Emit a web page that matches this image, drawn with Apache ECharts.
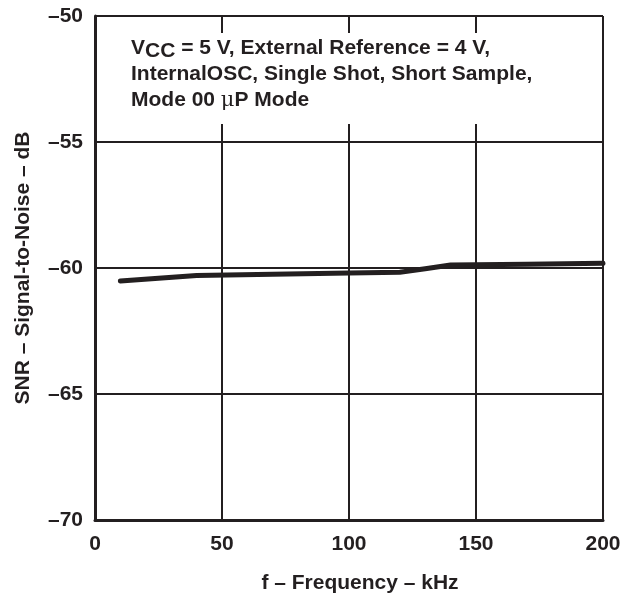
<!DOCTYPE html>
<html>
<head>
<meta charset="utf-8">
<script src="https://cdn.jsdelivr.net/npm/echarts@6/dist/echarts.min.js"></script>
<style>
  html, body { margin: 0; padding: 0; background: #fff; }
  #chart { width: 621px; height: 594px; }
</style>
</head>
<body>
<div id="chart"></div>
<script>
// SNR vs frequency
const freqKHz = [10, 40, 70, 100, 120, 130, 140, 170, 200]
const snrDb = [-60.52, -60.3, -60.25, -60.2, -60.17, -60.03, -59.88, -59.85, -59.81]

const xTicks = [0, 50, 100, 150, 200]
const yTicks = [-70, -65, -60, -55, -50]

const chart = echarts.init(document.getElementById('chart'))
const font = 'Liberation Sans, Arial, sans-serif'
const ink = '#231f20'
const fs = 21

const option = {
  animation: false,
  backgroundColor: '#fff',
  grid: { left: 95, right: 18, top: 16, bottom: 74, containLabel: false, outerBoundsMode: 'none' },
  xAxis: {
    type: 'value',
    min: xTicks[0],
    max: xTicks[xTicks.length - 1],
    interval: 50,
    name: 'f – Frequency – kHz',
    nameLocation: 'middle',
    nameGap: 53,
    nameTextStyle: { color: ink, fontFamily: font, fontWeight: 'bold', fontSize: fs, padding: [0, 0, 0, 22] },
    axisLine: { show: true, lineStyle: { color: ink, width: 3 } },
    axisTick: { show: false },
    axisLabel: { color: ink, fontFamily: font, fontWeight: 'bold', fontSize: fs, margin: 14 },
    splitLine: { show: true, lineStyle: { color: ink, width: 2 } }
  },
  yAxis: {
    type: 'value',
    min: yTicks[0],
    max: yTicks[yTicks.length - 1],
    interval: 5,
    name: 'SNR – Signal-to-Noise – dB',
    nameLocation: 'middle',
    nameGap: 61,
    nameRotate: 90,
    nameTextStyle: { color: ink, fontFamily: font, fontWeight: 'bold', fontSize: fs },
    axisLine: { show: true, lineStyle: { color: ink, width: 3 } },
    axisTick: { show: false },
    axisLabel: {
      color: ink, fontFamily: font, fontWeight: 'bold', fontSize: fs, margin: 12,
      padding: [5, 0, 0, 0],
      formatter: v => String(v).replace('-', '\u2013')
    },
    splitLine: { show: true, lineStyle: { color: ink, width: 2 } }
  },
  graphic: [
    {
      type: 'rect',
      shape: { x: 98, y: 33, width: 462, height: 91 },
      style: { fill: '#fff' },
      z: 50
    },
    {
      type: 'text',
      left: 131,
      top: 38,
      z: 51,
      style: {
        text: '{b|V}{s|CC}{b| = 5 V, External Reference = 4 V,}\n{b|InternalOSC, Single Shot, Short Sample,}\n{b|Mode 00 }{m|\u03bc}{b|P Mode}',
        rich: {
          b: { fontFamily: font, fontWeight: 'bold', fontSize: fs, fill: ink, lineHeight: 26 },
          s: { fontFamily: font, fontWeight: 'bold', fontSize: fs, fill: ink, lineHeight: 16, verticalAlign: 'bottom' },
          m: { fontFamily: 'DejaVu Serif, serif', fontSize: fs, fill: ink, lineHeight: 26 }
        }
      }
    }
  ],
  series: [
    {
      type: 'line',
      data: freqKHz.map((f, i) => [f, snrDb[i]]),
      showSymbol: false,
      smooth: false,
      lineStyle: { color: ink, width: 5, cap: 'round', join: 'round' },
      z: 10
    }
  ]
}

chart.setOption(option)
</script>
</body>
</html>
